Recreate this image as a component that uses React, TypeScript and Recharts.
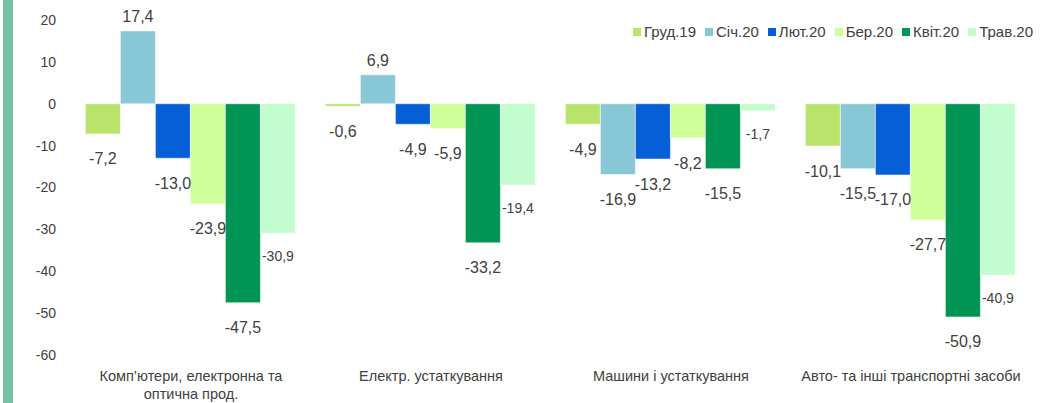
import { BarChart, Bar, XAxis, YAxis, LabelList } from 'recharts';

const CATEGORIES = [
  'Комп’ютери, електронна та оптична прод.',
  'Електр. устаткування',
  'Машини і устаткування',
  'Авто- та інші транспортні засоби',
];

// how the category names break onto lines under the axis
const CATEGORY_LINES = [
  ['Комп’ютери, електронна та', 'оптична прод.'],
  ['Електр. устаткування'],
  ['Машини і устаткування'],
  ['Авто- та інші транспортні засоби'],
];

const SERIES_NAMES = ['Груд.19', 'Січ.20', 'Лют.20', 'Бер.20', 'Квіт.20', 'Трав.20'];

const GRUD_19 = [-7.2, -0.6, -4.9, -10.1];
const SICH_20 = [17.4, 6.9, -16.9, -15.5];
const LYUT_20 = [-13.0, -4.9, -13.2, -17.0];
const BER_20 = [-23.9, -5.9, -8.2, -27.7];
const KVIT_20 = [-47.5, -33.2, -15.5, -50.9];
const TRAV_20 = [-30.9, -19.4, -1.7, -40.9];

const Y_TICKS = [-60, -50, -40, -30, -20, -10, 0, 10, 20];

const SERIES_VALUES = [GRUD_19, SICH_20, LYUT_20, BER_20, KVIT_20, TRAV_20];
const COLORS = ['#B9E36B', '#87C7D6', '#055FD6', '#CFFF98', '#009455', '#C3FCCD'];

const data = CATEGORIES.map((name, i) => {
  const row: Record<string, string | number> = { name };
  SERIES_VALUES.forEach((vals, s) => {
    row[`s${s}`] = vals[i];
  });
  return row;
});

const fmt = (v: number) => v.toFixed(1).replace('.', ',');

const makeLabel = (small: boolean) => (props: any) => {
  const { x, y, width, height, value } = props;
  if (value == null) return null;
  const v = Number(value);
  const top = Math.min(y, y + height);
  const bottom = Math.max(y, y + height);
  const cy = v >= 0 ? top - 14 : bottom + (small ? 23 : 25);
  return (
    <text
      x={x + width / 2}
      y={cy}
      textAnchor="middle"
      dominantBaseline="central"
      fontSize={small ? 14 : 16}
      fill="#404040"
    >
      {fmt(v)}
    </text>
  );
};

const CategoryTick = ({ x, y, index }: any) => {
  const lines = CATEGORY_LINES[index] ?? [CATEGORIES[index]];
  return (
    <g>
      {lines.map((line, i) => (
        <text
          key={i}
          x={x}
          y={y + 21 + i * 18}
          textAnchor="middle"
          dominantBaseline="central"
          fontSize={14.5}
          fill="#404040"
        >
          {line}
        </text>
      ))}
    </g>
  );
};

export default function App() {
  return (
    <div
      style={{
        position: 'absolute',
        left: 0,
        top: 0,
        width: 1046,
        height: 403,
        background: '#fff',
        fontFamily: '"Liberation Sans", Arial, sans-serif',
      }}
    >
      {/* green strip on the left edge */}
      <div style={{ position: 'absolute', left: 3, top: 0, width: 10, height: 403, background: '#74C2A3' }} />

      <BarChart
        width={1046}
        height={403}
        data={data}
        margin={{ top: 20, right: 15, left: 0, bottom: 0 }}
        barCategoryGap="6%"
        barGap={0}
      >
        <XAxis
          dataKey="name"
          axisLine={false}
          tickLine={false}
          tickSize={0}
          tickMargin={0}
          height={48}
          interval={0}
          tick={<CategoryTick />}
        />
        <YAxis
          domain={[-60, 20]}
          ticks={Y_TICKS}
          axisLine={false}
          tickLine={false}
          width={71}
          tickMargin={9}
          tick={{ fontSize: 14, fill: '#404040' }}
        />
        {SERIES_NAMES.map((name, s) => (
          <Bar
            key={name}
            dataKey={`s${s}`}
            name={name}
            fill={COLORS[s]}
            stroke="#ffffff"
            strokeWidth={0.5}
            isAnimationActive={false}
          >
            <LabelList dataKey={`s${s}`} content={makeLabel(s === 5)} />
          </Bar>
        ))}
      </BarChart>

      {/* Legend */}
      <div
        style={{
          position: 'absolute',
          right: 13,
          top: 23,
          display: 'flex',
          gap: 9,
          fontSize: 15,
          color: '#404040',
          lineHeight: '17px',
        }}
      >
        {SERIES_NAMES.map((name, s) => (
          <div key={name} style={{ display: 'flex', alignItems: 'center', gap: 3 }}>
            <span style={{ width: 8, height: 8, background: COLORS[s], display: 'inline-block' }} />
            <span>{name}</span>
          </div>
        ))}
      </div>
    </div>
  );
}
